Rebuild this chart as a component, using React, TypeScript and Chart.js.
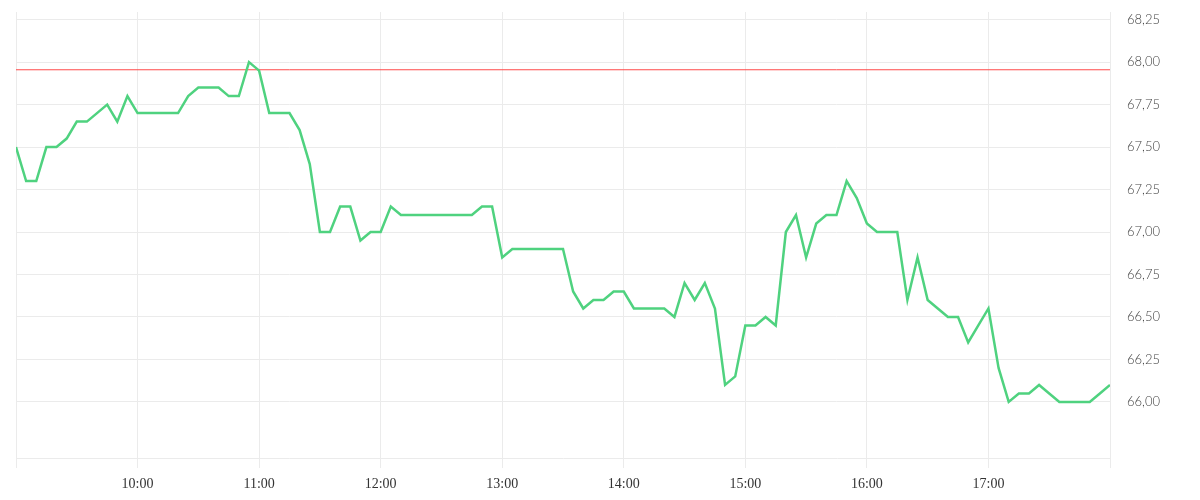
import { useEffect, useRef } from 'react';
import { Chart, registerables } from 'chart.js';

Chart.register(...registerables);

// Session: 09:00 → 18:00, one quote every 5 minutes
const sessionStart = 540; // minutes after midnight (09:00)
const sessionEnd = 1080; // 18:00
const stepMinutes = 5;

const prices = [
  67.5, 67.3, 67.3, 67.5, 67.5, 67.55, 67.65, 67.65, 67.7, 67.75, 67.65, 67.8,
  67.7, 67.7, 67.7, 67.7, 67.7, 67.8, 67.85, 67.85, 67.85, 67.8, 67.8, 68.0,
  67.95, 67.7, 67.7, 67.7, 67.6, 67.4, 67.0, 67.0, 67.15, 67.15, 66.95, 67.0,
  67.0, 67.15, 67.1, 67.1, 67.1, 67.1, 67.1, 67.1, 67.1, 67.1, 67.15, 67.15,
  66.85, 66.9, 66.9, 66.9, 66.9, 66.9, 66.9, 66.65, 66.55, 66.6, 66.6, 66.65,
  66.65, 66.55, 66.55, 66.55, 66.55, 66.5, 66.7, 66.6, 66.7, 66.55, 66.1, 66.15,
  66.45, 66.45, 66.5, 66.45, 67.0, 67.1, 66.85, 67.05, 67.1, 67.1, 67.3, 67.2,
  67.05, 67.0, 67.0, 67.0, 66.6, 66.85, 66.6, 66.55, 66.5, 66.5, 66.35, 66.45,
  66.55, 66.2, 66.0, 66.05, 66.05, 66.1, 66.05, 66.0, 66.0, 66.0, 66.0, 66.05,
  66.1,
];

const referencePrice = [67.955];

const yTickValues = [66.0, 66.25, 66.5, 66.75, 67.0, 67.25, 67.5, 67.75, 68.0, 68.25];
const yMin = 65.67;
const yMax = 68.295;

const times = prices.map((_, i) => sessionStart + i * stepMinutes);

const fmtTime = (m: number) => {
  const h = Math.floor(m / 60);
  const mm = Math.round(m % 60);
  return `${String(h).padStart(2, '0')}:${String(mm).padStart(2, '0')}`;
};

const gridColor = '#ebebeb';

export default function App() {
  const ref = useRef<HTMLCanvasElement | null>(null);

  useEffect(() => {
    if (!ref.current) return;
    const chart = new Chart(ref.current, {
      type: 'line',
      data: {
        datasets: [
          {
            data: times.map((t, i) => ({ x: t, y: prices[i] })),
            borderColor: '#4fd27f',
            borderWidth: 2.5,
            pointRadius: 0,
            tension: 0,
            fill: false,
          },
          {
            data: [
              { x: sessionStart, y: referencePrice[0] },
              { x: sessionEnd, y: referencePrice[0] },
            ],
            borderColor: '#ff4a4a',
            borderWidth: 1,
            pointRadius: 0,
            fill: false,
          },
        ],
      },
      options: {
        animation: false,
        responsive: false,
        maintainAspectRatio: false,
        layout: { padding: { left: 8, top: 4, right: 0, bottom: 0 } },
        plugins: {
          legend: { display: false },
          tooltip: { enabled: false },
        },
        scales: {
          x: {
            type: 'linear',
            min: sessionStart,
            max: sessionEnd,
            grid: { color: gridColor, tickLength: 10, drawTicks: true, tickColor: gridColor },
            border: { color: gridColor },
            ticks: {
              stepSize: 60,
              autoSkip: false,
              maxRotation: 0,
              padding: 8,
              color: '#333',
              font: { family: 'serif', size: 14 },
              callback: (v: any) =>
                v === sessionStart || v === sessionEnd ? '' : fmtTime(Number(v)),
            },
            afterFit: (s: any) => {
              s.height = 34;
              s.paddingLeft = 0;
              s.paddingRight = 0;
            },
          },
          y: {
            position: 'right',
            min: yMin,
            max: yMax,
            grid: { color: gridColor, drawTicks: false },
            border: { color: gridColor },
            afterBuildTicks: (axis: any) => {
              axis.ticks = yTickValues.map((v) => ({ value: v }));
            },
            ticks: {
              padding: 17,
              color: '#444',
              font: { family: 'Lato', size: 13, weight: 300 },
              callback: (v: any) => Number(v).toFixed(2).replace('.', ','),
            },
            afterFit: (s: any) => {
              s.width = 82;
              s.paddingTop = 0;
              s.paddingBottom = 0;
            },
          },
        },
      },
    });
    return () => chart.destroy();
  }, []);

  return (
    <div style={{ width: 1184, height: 484 }}>
      <canvas ref={ref} width={1184} height={484} style={{ width: 1184, height: 484 }} />
    </div>
  );
}
